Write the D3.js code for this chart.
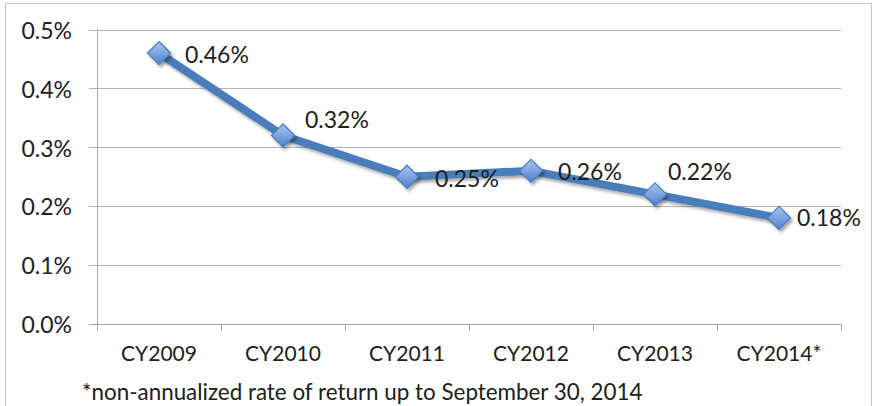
<!DOCTYPE html>
<html>
<head>
<meta charset="utf-8">
<script src="https://cdn.jsdelivr.net/npm/d3@7"></script>
<style>
  body { margin: 0; background: #fff; }
  svg text { font-family: Lato, "Open Sans", sans-serif; fill: #202020; }
</style>
</head>
<body>
<div id="chart"></div>
<script>
// chart data
var categories = ["CY2009", "CY2010", "CY2011", "CY2012", "CY2013", "CY2014*"];
var returns = [0.0046, 0.0032, 0.0025, 0.0026, 0.0022, 0.0018];
var yTicks = [0, 0.001, 0.002, 0.003, 0.004, 0.005];
var footnote = "*non-annualized rate of return up to September 30, 2014";

// label nudges (dx, dy from the marker centre), hand placed like the original
var labelOffsets = [[26, 10], [22, -8], [28, 10], [27, 9], [13, -14], [18, 8]];

var svgWidth = 881;
var svgHeight = 406;

var margin = { top: 29.5, left: 97, right: 40, bottom: 82 };
var plotRight = 841;
var plotBottom = 324;

var svg = d3.select("#chart")
  .append("svg")
  .attr("width", svgWidth)
  .attr("height", svgHeight);

// drop shadow + marker gradient
var defs = svg.append("defs");
var shadow = defs.append("filter").attr("id", "shadow")
  .attr("x", "-50%").attr("y", "-50%").attr("width", "200%").attr("height", "200%");
shadow.append("feDropShadow")
  .attr("dx", 2).attr("dy", 2.5).attr("stdDeviation", 1.8)
  .attr("flood-color", "#000").attr("flood-opacity", 0.35);

var grad = defs.append("linearGradient").attr("id", "markerFill")
  .attr("x1", 0).attr("y1", 0).attr("x2", 0).attr("y2", 1);
grad.append("stop").attr("offset", "0%").attr("stop-color", "#a9c6ee");
grad.append("stop").attr("offset", "50%").attr("stop-color", "#7aa5e0");
grad.append("stop").attr("offset", "100%").attr("stop-color", "#4f80c6");

// outer frame
svg.append("rect")
  .attr("x", 5.5).attr("y", 3.5)
  .attr("width", 866).attr("height", 420)
  .attr("fill", "none")
  .attr("stroke", "#c8c8c8");

// scales
var xScale = d3.scaleBand()
  .domain(categories)
  .range([margin.left, plotRight])
  .padding(0);

var yScale = d3.scaleLinear()
  .domain([0, 0.005])
  .range([plotBottom, margin.top]);

// gridlines
svg.append("g")
  .selectAll("line")
  .data(yTicks)
  .enter()
  .append("line")
  .attr("x1", margin.left - 8)
  .attr("x2", plotRight)
  .attr("y1", d => Math.round(yScale(d)) + 0.5)
  .attr("y2", d => Math.round(yScale(d)) + 0.5)
  .attr("stroke", d => d === 0 ? "#a6a6a6" : "#b4b4b4")
  .attr("stroke-width", 1);

// y axis (labels only, line drawn by hand)
var yAxis = d3.axisLeft(yScale)
  .tickValues(yTicks)
  .tickFormat(d3.format(".1%"))
  .tickSize(0)
  .tickPadding(25);

var yAxisGroup = svg.append("g")
  .attr("transform", `translate(${margin.left}, 0.5)`)
  .call(yAxis);
yAxisGroup.select(".domain").remove();
yAxisGroup.selectAll("text")
  .attr("font-size", "23px")
  .attr("dy", "0.36em");

svg.append("line")
  .attr("x1", margin.left + 0.5).attr("x2", margin.left + 0.5)
  .attr("y1", yScale(0.005)).attr("y2", plotBottom + 0.5)
  .attr("stroke", "#a6a6a6");

// x axis
var xAxis = d3.axisBottom(xScale).tickSize(0).tickPadding(22);
var xAxisGroup = svg.append("g")
  .attr("transform", `translate(0, ${plotBottom})`)
  .call(xAxis);
xAxisGroup.select(".domain").remove();
xAxisGroup.selectAll("text")
  .attr("font-size", "21px");

// tick marks between categories
var boundaries = categories.map(d => xScale(d)).concat([plotRight]);
svg.append("g")
  .selectAll("line")
  .data(boundaries)
  .enter()
  .append("line")
  .attr("x1", d => Math.round(d) + 0.5)
  .attr("x2", d => Math.round(d) + 0.5)
  .attr("y1", plotBottom)
  .attr("y2", plotBottom + 7)
  .attr("stroke", "#a6a6a6");

// the line
var points = categories.map((c, i) => ({ cat: c, value: returns[i], off: labelOffsets[i] }));
var cx = d => xScale(d.cat) + xScale.bandwidth() / 2;

var line = d3.line()
  .x(cx)
  .y(d => yScale(d.value));

svg.append("path")
  .datum(points)
  .attr("d", line)
  .attr("fill", "none")
  .attr("stroke", "#4a7ebb")
  .attr("stroke-width", 8)
  .attr("stroke-linejoin", "round")
  .attr("filter", "url(#shadow)");

// diamond markers
var diamond = d3.symbol().type(d3.symbolDiamond2).size(340);
svg.append("g")
  .selectAll("path")
  .data(points)
  .enter()
  .append("path")
  .attr("d", diamond)
  .attr("transform", d => `translate(${cx(d)}, ${yScale(d.value)})`)
  .attr("fill", "url(#markerFill)")
  .attr("stroke", "#4a7ebb")
  .attr("stroke-width", 1.2)
  .attr("filter", "url(#shadow)");

// data labels
svg.append("g")
  .selectAll("text")
  .data(points)
  .enter()
  .append("text")
  .attr("x", d => cx(d) + d.off[0])
  .attr("y", d => yScale(d.value) + d.off[1])
  .attr("font-size", "23px")
  .text(d => d3.format(".2%")(d.value));

// footnote
svg.append("text")
  .attr("x", 82)
  .attr("y", 400)
  .attr("font-size", "22.4px")
  .text(footnote);
</script>
</body>
</html>
